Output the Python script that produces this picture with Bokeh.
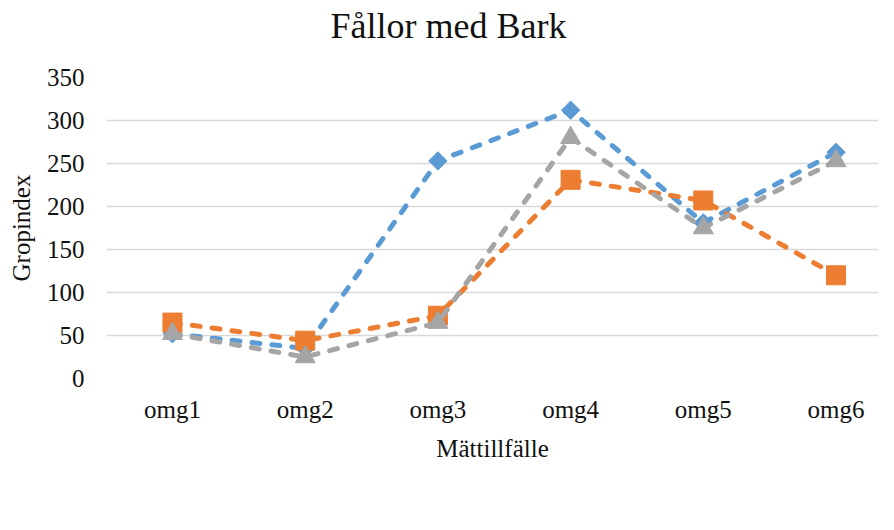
from bokeh.plotting import figure
from bokeh.models import Range1d, FixedTicker, Legend, LegendItem, LinearAxis
from bokeh.embed import file_html
from bokeh.resources import INLINE
import math

categories = ["omg1", "omg2", "omg3", "omg4", "omg5", "omg6"]
bark1 = [52, 35, 253, 312, 181, 263]
bark2 = [65, 44, 73, 231, 207, 120]
bark3 = [52, 25, 65, 280, 175, 253]
series_names = ["Bark 1", "Bark 2", "Bark 3"]
y_ticks = [0, 50, 100, 150, 200, 250, 300, 350]
title_text = "Fållor med Bark"

FONT = "Liberation Serif"
TXT = "#111111"

xs = list(range(len(categories)))

LEFT, TOP, BOTTOM = 106, 77, 136
FW, FH = 772, 301

p = figure(frame_width=FW, frame_height=FH, output_backend="svg", toolbar_location=None,
           x_range=Range1d(-0.497, 5.32), y_range=Range1d(0, 350),
           min_border_left=LEFT, min_border_right=0, min_border_top=TOP,
           min_border_bottom=BOTTOM)
p.outline_line_color = None
p.background_fill_color = "white"

xa = p.below[0]
ya = p.left[0]

# spacer between title and plot area: one invisible tick with an empty label
spacer = LinearAxis(ticker=FixedTicker(ticks=[0]), axis_line_color=None,
                    major_tick_line_color=None, minor_tick_line_color=None,
                    major_tick_out=32, major_tick_in=0, minor_tick_out=0,
                    major_label_standoff=0, major_label_overrides={0: ""},
                    major_label_text_font_size="1px")
p.add_layout(spacer, "above")

p.title.text = title_text
p.title.align = "left"
p.title.offset = 330 - LEFT
p.title.text_font = FONT
p.title.text_font_size = "36px"
p.title.text_font_style = "normal"
p.title.text_color = TXT
p.title.standoff = 0

xa.ticker = FixedTicker(ticks=xs)
xa.major_label_overrides = {i: c for i, c in enumerate(categories)}
ya.ticker = FixedTicker(ticks=y_ticks)
for ax in (xa, ya):
    ax.axis_line_color = None
    ax.major_tick_line_color = None
    ax.minor_tick_line_color = None
    ax.major_tick_out = 0
    ax.major_tick_in = 0
    ax.major_label_text_font = FONT
    ax.major_label_text_font_size = "25px"
    ax.major_label_text_color = TXT
    ax.axis_label_text_font = FONT
    ax.axis_label_text_font_size = "25px"
    ax.axis_label_text_font_style = "normal"
    ax.axis_label_text_color = TXT
xa.axis_label = "Mättillfälle"
xa.major_label_standoff = 17
xa.axis_label_standoff = 9
ya.axis_label = "Gropindex"
ya.major_label_standoff = 22
ya.axis_label_standoff = 9

p.xgrid.grid_line_color = None
p.ygrid.grid_line_color = "#d9d9d9"
p.ygrid.grid_line_width = 1.5

colors = ["#5B9BD5", "#ED7D31", "#A5A5A5"]
data = [bark1, bark2, bark3]
items = []
for name, ys, col, k in zip(series_names, data, colors, range(3)):
    ln = p.line(xs, ys, line_color=col, line_width=5, line_dash="8 12",
                line_cap="round")
    if k == 0:
        mk = p.scatter(xs, ys, marker="square", angle=math.pi / 4, size=13,
                       fill_color=col, line_color=col)
    elif k == 1:
        mk = p.scatter(xs, ys, marker="square", size=19,
                       fill_color=col, line_color=col)
    else:
        mk = p.scatter(xs, ys, marker="triangle", size=20,
                       fill_color=col, line_color=col)
    items.append(LegendItem(label=name, renderers=[ln, mk]))

legend = Legend(items=items, orientation="horizontal", location="bottom_center",
                border_line_color=None, background_fill_alpha=0,
                label_text_font=FONT, label_text_font_size="25px",
                label_text_color=TXT, glyph_width=58, glyph_height=20,
                label_standoff=15, label_width=95, spacing=0,
                padding=0, margin=10)
p.add_layout(legend, "below")

open("out.html", "w").write(file_html(p, INLINE))
